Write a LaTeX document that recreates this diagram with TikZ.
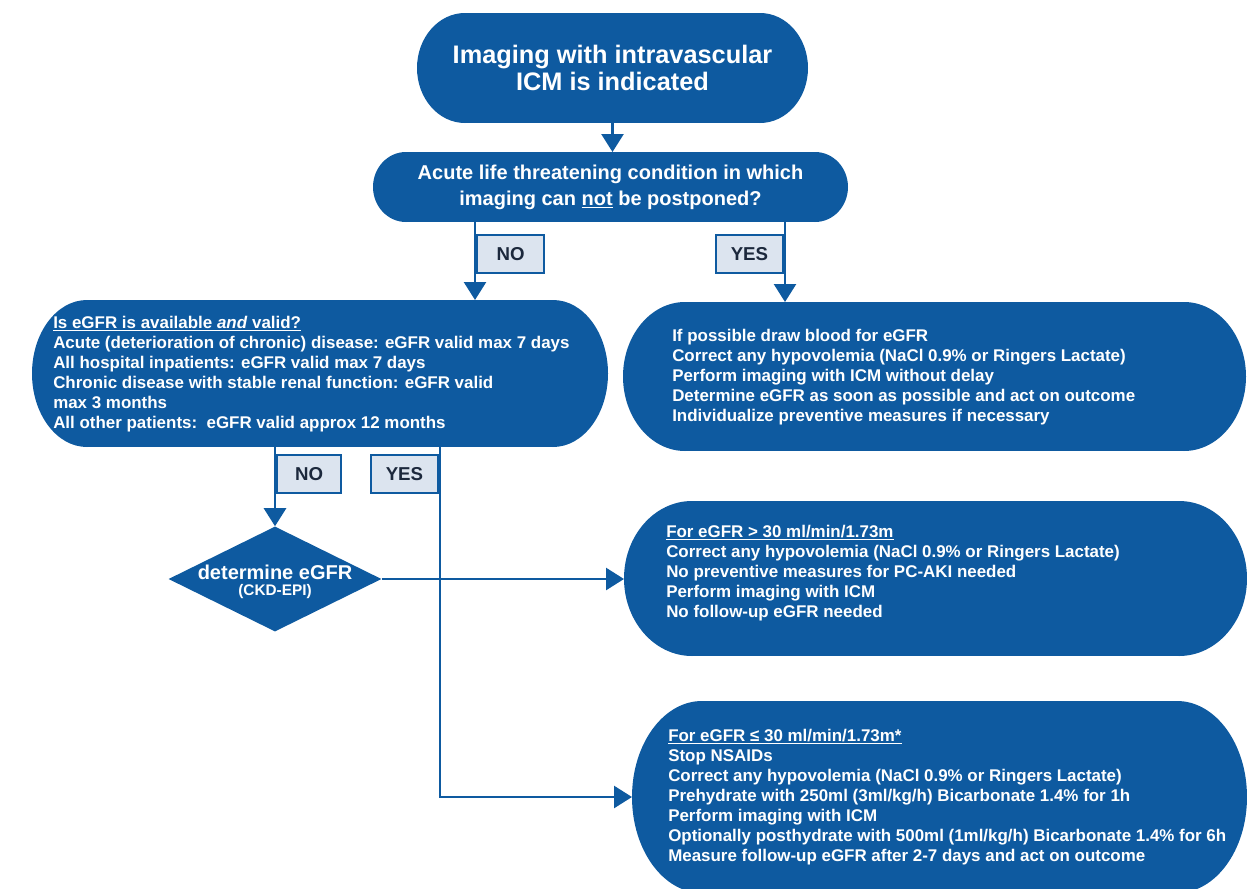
\documentclass[tikz,border=0pt]{standalone}
\usepackage{fontspec}
\setmainfont{Liberation Sans}
\usetikzlibrary{shapes.geometric,arrows.meta}
\definecolor{cblue}{RGB}{14,90,160}
\definecolor{lfill}{RGB}{220,228,239}
\definecolor{ltext}{RGB}{28,40,60}
\newdimen\pxu \pxu=0.75pt
% #1 name, #2 x1, #3 y1, #4 x2, #5 y2, #6 horizontal radius of the ends
\newcommand\stad[6]{%
  \fill[cblue] ({#2+#6},#3) rectangle ({#4-#6},#5);
  \fill[cblue] ({#2+#6},{(#3+#5)/2}) ellipse[x radius=#6, y radius={(#5-#3)/2}];
  \fill[cblue] ({#4-#6},{(#3+#5)/2}) ellipse[x radius=#6, y radius={(#5-#3)/2}];
  \node[inner sep=0pt, outer sep=0pt, minimum width={(#4-#2)*0.75pt}, minimum height={(#5-#3)*0.75pt}] (#1) at ({(#2+#4)/2},{(#3+#5)/2}) {};
}
\begin{document}
\begin{tikzpicture}[x=0.75pt,y=-0.75pt,
  txt/.style={text=white, font=\bfseries\fontsize{12.7pt}{15pt}\selectfont, align=left, inner sep=0pt},
  lbl/.style={fill=lfill, draw=cblue, line width=1.6pt, text=ltext, font=\bfseries\fontsize{14pt}{16pt}\selectfont, minimum width=67\pxu, minimum height=38\pxu, inner sep=0pt},
  conn/.style={draw=cblue, line width=2pt, -{Triangle[width=16.5pt,length=13.5pt]}}
]
\useasboundingbox (0,0) rectangle (1247,889);
\clip (0,0) rectangle (1247,889);

% boxes
\stad{top}{417}{13}{808}{123}{48}
\stad{q}{373}{152}{848}{222}{33}
\stad{egfr}{32}{300}{608}{447}{55}
\stad{yesbox}{623}{302}{1246}{451}{62}
\stad{hi}{624}{501}{1247}{656}{68}
\stad{lo}{632}{701}{1247}{893}{70}
\node[diamond, fill=cblue, minimum width=213\pxu, minimum height=105\pxu, inner sep=0pt] (dia) at (275,579) {};

% texts
\node[text=white, align=center, inner sep=0pt, font=\bfseries\fontsize{19pt}{20.5pt}\selectfont] (topt) at (top) {Imaging with intravascular\\ICM is indicated};
\node[text=white, align=center, inner sep=0pt, font=\bfseries\fontsize{15pt}{19.5pt}\selectfont] (qt) at (q) {Acute life threatening condition in which\\imaging can \underline{not} be postponed?};
\node[txt, anchor=west] (egfrt) at (53,374) {\underline{Is eGFR is available \textit{and} valid?}\\
Acute (deterioration of chronic) disease: eGFR valid max 7 days\\
All hospital inpatients: eGFR valid max 7 days\\
Chronic disease with stable renal function: eGFR valid\\
max 3 months\\
All other patients:\ \ eGFR valid approx 12 months};
\node[txt, anchor=west] (yest) at (672,377.5) {If possible draw blood for eGFR\\
Correct any hypovolemia (NaCl 0.9\% or Ringers Lactate)\\
Perform imaging with ICM without delay\\
Determine eGFR as soon as possible and act on outcome\\
Individualize preventive measures if necessary};
\node[txt, anchor=west] (hit) at (666,573) {\underline{For eGFR > 30 ml/min/1.73m}\\
Correct any hypovolemia (NaCl 0.9\% or Ringers Lactate)\\
No preventive measures for PC-AKI needed\\
Perform imaging with ICM\\
No follow-up eGFR needed};
\node[txt, anchor=west] (lot) at (668,797) {\underline{For eGFR ≤ 30 ml/min/1.73m*}\\
Stop NSAIDs\\
Correct any hypovolemia (NaCl 0.9\% or Ringers Lactate)\\
Prehydrate with 250ml (3ml/kg/h) Bicarbonate 1.4\% for 1h\\
Perform imaging with ICM\\
Optionally posthydrate with 500ml (1ml/kg/h) Bicarbonate 1.4\% for 6h\\
Measure follow-up eGFR after 2-7 days and act on outcome};
\node[text=white, inner sep=0pt, font=\bfseries\fontsize{15pt}{17pt}\selectfont] (diat1) at (275,572) {determine eGFR};
\node[text=white, inner sep=0pt, font=\bfseries\fontsize{11.5pt}{13pt}\selectfont] (diat2) at (275,592) {(CKD-EPI)};

% connectors
\coordinate (xno) at (475,0);
\coordinate (xyes) at (785,0);
\coordinate (xno2) at (275,0);
\coordinate (xyes2) at (440,0);
\draw[conn] (top.south) -- (top.south |- q.north);
\draw[conn] (q.south -| xno) -- (egfr.north -| xno);
\draw[conn] (q.south -| xyes) -- (yesbox.north -| xyes);
\draw[conn] (egfr.south -| xno2) -- (dia.north);
\draw[conn] (egfr.south -| xyes2) |- (lo.west);
\draw[conn] (dia.east) -- (dia.east -| hi.west);

% labels
\node[lbl, anchor=west] (lno) at (476,254) {NO};
\node[lbl, anchor=east] (lyes) at (784,254) {YES};
\node[lbl, anchor=west, minimum width=64\pxu] (lno2) at (276,474) {NO};
\node[lbl, anchor=east] (lyes2) at (439,474) {YES};
\end{tikzpicture}
\end{document}
